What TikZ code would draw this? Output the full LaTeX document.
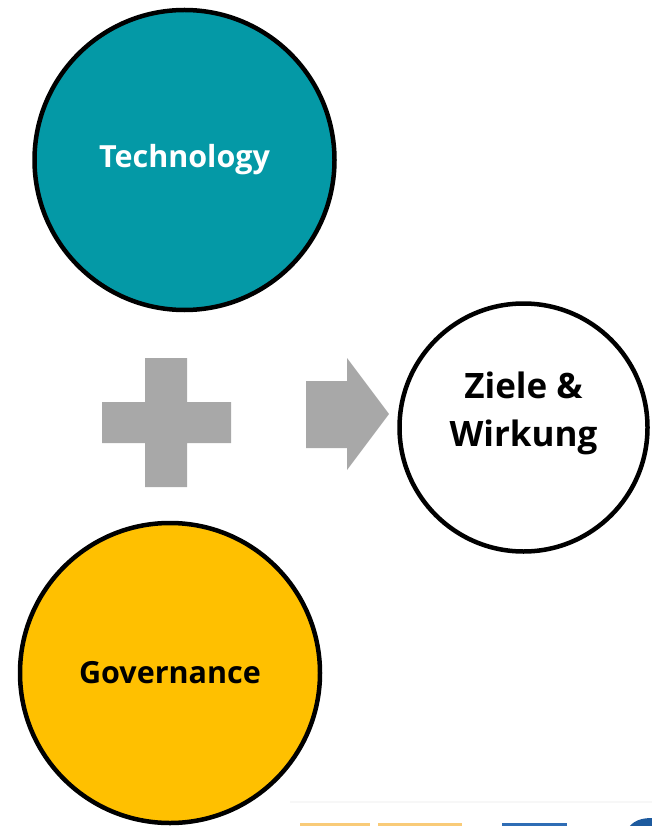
\documentclass[tikz,border=0pt]{standalone}
\usepackage{fontspec}
\setmainfont{Open Sans}
\begin{document}
\begin{tikzpicture}[x=1pt,y=-1pt,
  circ/.style={circle,draw=black,line width=4.5pt,minimum size=#1,inner sep=0pt,align=center,font=\bfseries\fontsize{30.5}{48}\selectfont},
  shapegray/.style={fill=plusgray,draw=none}]
\definecolor{teal1}{HTML}{0499A6}
\definecolor{gold1}{HTML}{FFC000}
\definecolor{plusgray}{HTML}{A8A8A8}
\definecolor{logoorange}{HTML}{F9CB78}
\definecolor{logoblue}{HTML}{2F6DB5}
\definecolor{logodark}{HTML}{1D5A9E}
\useasboundingbox (0,0) rectangle (652,826);
\clip (0,0) rectangle (652,826);
\node[circ=300pt,fill=teal1] (tech) at (184.5,160) {};
\node[text=white,font=\bfseries\fontsize{30.5}{48}\selectfont] (techlabel) at (tech.center) {Technology};
\node[circ=300pt,fill=gold1] (gov) at (170,673) {};
\node[text=black,font=\bfseries\fontsize{30.5}{48}\selectfont] (govlabel) at (gov.center) {Governance};
\node[circ=248pt,fill=white] (ziele) at (523.5,427.5) {};
\node[text=black,align=center,font=\bfseries\fontsize{35}{48}\selectfont] (zielelabel) at ([yshift=14pt]ziele.center) {Ziele \&\\Wirkung};
% plus sign
\fill[shapegray] (145,358) -- (187,358) -- (187,402) -- (231,402) -- (231,443) -- (187,443) -- (187,487) -- (145,487) -- (145,443) -- (102,443) -- (102,402) -- (145,402) -- cycle;
% arrow
\fill[shapegray] (306,381) -- (347,381) -- (347,358) -- (389,414) -- (347,470) -- (347,448) -- (306,448) -- cycle;
% cut-off logo fragments at the bottom
\fill[black!3] (290,801) rectangle (652,803);
\fill[logoorange] (300,823) rectangle (370,830);
\fill[logoorange] (378,823) rectangle (462,830);
\fill[logoblue] (502,823) rectangle (567,830);
\fill[logodark] (627,830) to[out=60,in=180] (652,818) -- (652,830) -- cycle;
\end{tikzpicture}
\end{document}
